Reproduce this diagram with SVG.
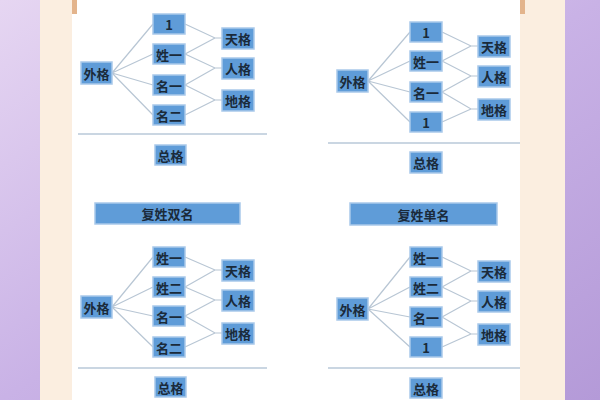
<svg xmlns="http://www.w3.org/2000/svg" width="600" height="400" viewBox="0 0 600 400">
<defs>
<linearGradient id="pl" x1="0" y1="0" x2="1" y2="1"><stop offset="0" stop-color="#e6d6f2"/><stop offset="0.5" stop-color="#c9b2e6"/><stop offset="1" stop-color="#b49ad8"/></linearGradient>
<style>
.b{fill:#5f9cd8;stroke:#a9c9ea;stroke-width:1.5}
.t{font-family:"Noto Sans CJK SC","Liberation Sans",sans-serif;font-size:13px;font-weight:bold;fill:#1a2a3a;text-anchor:middle;dominant-baseline:central}
.c{stroke:#b8c6d4;stroke-width:1.2;fill:none}
.h{stroke:#b8c8d8;stroke-width:1.5}
</style>
</defs>
<rect width="600" height="400" fill="url(#pl)"/>
<rect x="40" y="0" width="525" height="400" fill="#fbeee0"/>
<rect x="72" y="0" width="448" height="400" fill="#fff"/>
<rect x="72" y="0" width="5" height="14" fill="#e3b48c"/>
<rect x="520" y="0" width="5" height="14" fill="#e3b48c"/>
<g id="connectors">
<path class="c" d="M112 73L153 24M112 73L153 54M112 73L153 85M112 73L153 115M185 24L215 38L222 38M185 54L215 38M185 54L215 68L222 68M185 85L215 68M185 85L215 100L222 100M185 115L215 100"/>
<path class="c" d="M368 81L410 32M368 81L410 61M368 81L410 92M368 81L410 122M442 32L471 46L478 46M442 61L471 46M442 61L471 76L478 76M442 92L471 76M442 92L471 109L478 109M442 122L471 109"/>
<path class="c" d="M112 307L153 257M112 307L153 287M112 307L153 316M112 307L153 347M185 257L215 270L222 270M185 287L215 270M185 287L215 300L222 300M185 316L215 300M185 316L215 333L222 333M185 347L215 333"/>
<path class="c" d="M368 309L410 257M368 309L410 287M368 309L410 317M368 309L410 347M442 257L471 271L478 271M442 287L471 271M442 287L471 301L478 301M442 317L471 301M442 317L471 334L478 334M442 347L471 334"/>
<line class="h" x1="78" y1="134" x2="267" y2="134"/>
<line class="h" x1="328" y1="143" x2="520" y2="143"/>
<line class="h" x1="78" y1="368" x2="267" y2="368"/>
<line class="h" x1="328" y1="368" x2="520" y2="368"/>
</g>
<g id="tl">
<g id="tl-wai"><rect class="b" x="81" y="62" width="31" height="22"/><text class="t" x="96.5" y="73">外格</text></g>
<g id="tl-1"><rect class="b" x="153" y="14" width="32" height="20"/><text class="t" x="169" y="24">1</text></g>
<g id="tl-x1"><rect class="b" x="153" y="44" width="32" height="20"/><text class="t" x="169" y="54">姓一</text></g>
<g id="tl-m1"><rect class="b" x="153" y="75" width="32" height="20"/><text class="t" x="169" y="85">名一</text></g>
<g id="tl-m2"><rect class="b" x="153" y="105" width="32" height="20"/><text class="t" x="169" y="115">名二</text></g>
<g id="tl-tian"><rect class="b" x="222" y="28" width="32" height="21"/><text class="t" x="238" y="38.5">天格</text></g>
<g id="tl-ren"><rect class="b" x="222" y="58" width="32" height="21"/><text class="t" x="238" y="68.5">人格</text></g>
<g id="tl-di"><rect class="b" x="222" y="90" width="32" height="21"/><text class="t" x="238" y="100.5">地格</text></g>
<g id="tl-zong"><rect class="b" x="155" y="145" width="31" height="20"/><text class="t" x="170.5" y="155">总格</text></g>
</g>
<g id="tr">
<g id="tr-wai"><rect class="b" x="337" y="70" width="31" height="22"/><text class="t" x="352.5" y="81">外格</text></g>
<g id="tr-1"><rect class="b" x="410" y="22" width="32" height="20"/><text class="t" x="426" y="32">1</text></g>
<g id="tr-x1"><rect class="b" x="410" y="51" width="32" height="20"/><text class="t" x="426" y="61">姓一</text></g>
<g id="tr-m1"><rect class="b" x="410" y="82" width="32" height="20"/><text class="t" x="426" y="92">名一</text></g>
<g id="tr-1b"><rect class="b" x="410" y="112" width="32" height="20"/><text class="t" x="426" y="122">1</text></g>
<g id="tr-tian"><rect class="b" x="478" y="36" width="32" height="21"/><text class="t" x="494" y="46.5">天格</text></g>
<g id="tr-ren"><rect class="b" x="478" y="66" width="32" height="21"/><text class="t" x="494" y="76.5">人格</text></g>
<g id="tr-di"><rect class="b" x="478" y="99" width="32" height="21"/><text class="t" x="494" y="109.5">地格</text></g>
<g id="tr-zong"><rect class="b" x="410" y="152" width="32" height="21"/><text class="t" x="426" y="162.5">总格</text></g>
</g>
<g id="bl">
<g id="bl-head"><rect class="b" x="95" y="203" width="145" height="21"/><text class="t" x="167.5" y="213.5">复姓双名</text></g>
<g id="bl-wai"><rect class="b" x="81" y="296" width="31" height="22"/><text class="t" x="96.5" y="307">外格</text></g>
<g id="bl-x1"><rect class="b" x="153" y="247" width="32" height="20"/><text class="t" x="169" y="257">姓一</text></g>
<g id="bl-x2"><rect class="b" x="153" y="277" width="32" height="20"/><text class="t" x="169" y="287">姓二</text></g>
<g id="bl-m1"><rect class="b" x="153" y="306" width="32" height="20"/><text class="t" x="169" y="316">名一</text></g>
<g id="bl-m2"><rect class="b" x="153" y="337" width="32" height="20"/><text class="t" x="169" y="347">名二</text></g>
<g id="bl-tian"><rect class="b" x="222" y="260" width="32" height="21"/><text class="t" x="238" y="270.5">天格</text></g>
<g id="bl-ren"><rect class="b" x="222" y="290" width="32" height="21"/><text class="t" x="238" y="300.5">人格</text></g>
<g id="bl-di"><rect class="b" x="222" y="323" width="32" height="21"/><text class="t" x="238" y="333.5">地格</text></g>
<g id="bl-zong"><rect class="b" x="155" y="377" width="31" height="20"/><text class="t" x="170.5" y="387">总格</text></g>
</g>
<g id="br">
<g id="br-head"><rect class="b" x="350" y="203" width="147" height="22"/><text class="t" x="423.5" y="214">复姓单名</text></g>
<g id="br-wai"><rect class="b" x="337" y="298" width="31" height="22"/><text class="t" x="352.5" y="309">外格</text></g>
<g id="br-x1"><rect class="b" x="410" y="247" width="32" height="20"/><text class="t" x="426" y="257">姓一</text></g>
<g id="br-x2"><rect class="b" x="410" y="277" width="32" height="20"/><text class="t" x="426" y="287">姓二</text></g>
<g id="br-m1"><rect class="b" x="410" y="307" width="32" height="20"/><text class="t" x="426" y="317">名一</text></g>
<g id="br-1"><rect class="b" x="410" y="337" width="32" height="20"/><text class="t" x="426" y="347">1</text></g>
<g id="br-tian"><rect class="b" x="478" y="261" width="32" height="21"/><text class="t" x="494" y="271.5">天格</text></g>
<g id="br-ren"><rect class="b" x="478" y="291" width="32" height="21"/><text class="t" x="494" y="301.5">人格</text></g>
<g id="br-di"><rect class="b" x="478" y="324" width="32" height="21"/><text class="t" x="494" y="334.5">地格</text></g>
<g id="br-zong"><rect class="b" x="410" y="378" width="32" height="20"/><text class="t" x="426" y="388">总格</text></g>
</g>
</svg>
